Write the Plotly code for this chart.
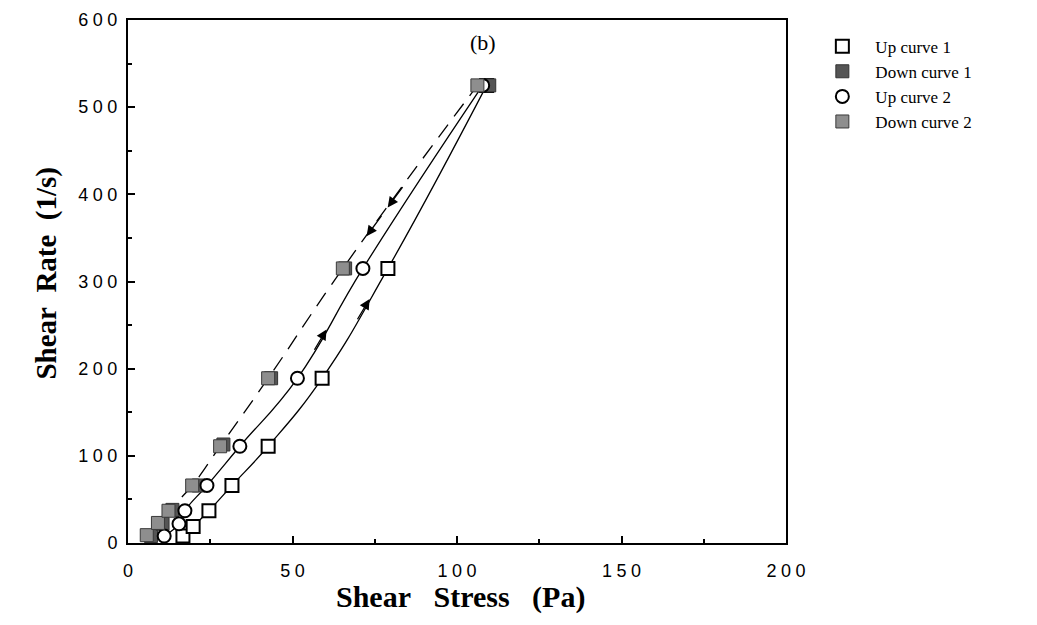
import numpy as np
import plotly.graph_objects as go

# ---- data ----
up1_stress = [16.7, 19.8, 24.6, 31.6, 42.6, 59.0, 79.0, 109.0]
up1_rate = [8, 19, 37, 66, 111, 189, 315, 525]

down1_stress = [7.0, 10.5, 13.5, 21.5, 29.0, 43.5, 66.0, 109.8]
down1_rate = [8, 22, 38, 66, 113, 189, 315, 525]

up2_stress = [11.0, 15.5, 17.3, 24.0, 34.0, 51.5, 71.4, 107.8]
up2_rate = [8, 22, 37, 66, 111, 189, 315, 525]

down2_stress = [5.7, 9.1, 12.3, 19.5, 28.0, 42.6, 65.3, 106.2]
down2_rate = [9, 23, 37, 66, 111, 189, 315, 525]

sp = "\u2005"
x_ticks = [0, 50, 100, 150, 200]
x_ticklabels = ["0", sp.join("50"), sp.join("100"), sp.join("150"), sp.join("200")]
y_ticks = [0, 100, 200, 300, 400, 500, 600]
y_ticklabels = ["0"] + [sp.join(s) for s in ["100", "200", "300", "400", "500", "600"]]

names = ["Up curve 1", "Down curve 1", "Up curve 2", "Down curve 2"]

fig = go.Figure()

line_style = dict(color="black", width=1.3, shape="spline", smoothing=1.3)
fig.add_trace(go.Scatter(x=up1_stress, y=up1_rate, mode="lines", line=line_style, showlegend=False, hoverinfo="skip"))
fig.add_trace(go.Scatter(x=up2_stress, y=up2_rate, mode="lines", line=line_style, showlegend=False, hoverinfo="skip"))
fig.add_trace(go.Scatter(x=down2_stress, y=down2_rate, mode="lines", line=dict(line_style, dash="16px,10px"),
                         showlegend=False, hoverinfo="skip"))

msize = 13
fig.add_trace(go.Scatter(x=up1_stress, y=up1_rate, mode="markers", name=names[0],
                         marker=dict(symbol="square", size=msize, color="white", line=dict(color="black", width=2))))
fig.add_trace(go.Scatter(x=down1_stress, y=down1_rate, mode="markers", name=names[1],
                         marker=dict(symbol="square", size=msize, color="#555555", line=dict(color="#333333", width=1))))
fig.add_trace(go.Scatter(x=up2_stress, y=up2_rate, mode="markers", name=names[2],
                         marker=dict(symbol="circle", size=msize, color="white", line=dict(color="black", width=2))))
fig.add_trace(go.Scatter(x=down2_stress, y=down2_rate, mode="markers", name=names[3],
                         marker=dict(symbol="square", size=msize, color="#8e8e8e", line=dict(color="#3a3a3a", width=1))))

def arrow(stress, rate, r_head, r_tail):
    xh = float(np.interp(r_head, rate, stress))
    xt = float(np.interp(r_tail, rate, stress))
    fig.add_annotation(x=xh, y=r_head, ax=xt, ay=r_tail, xref="x", yref="y", axref="x", ayref="y",
                       showarrow=True, arrowhead=2, arrowsize=1.6, arrowwidth=1.3, arrowcolor="black",
                       standoff=0, startstandoff=0, text="")

arrow(up1_stress, up1_rate, 280, 255)
arrow(up2_stress, up2_rate, 245, 220)
arrow(down2_stress, down2_rate, 352, 377)
arrow(down2_stress, down2_rate, 385, 410)

fig.add_annotation(x=108, y=574, xref="x", yref="y", text="(b)", showarrow=False,
                   font=dict(family="Liberation Serif", size=22, color="black"))

fig.add_annotation(x=0.506, y=-0.103, xref="paper", yref="paper", yanchor="middle",
                   text="<b>Shear\u00a0\u00a0\u00a0Stress\u00a0\u00a0\u00a0(Pa)</b>", showarrow=False,
                   font=dict(family="Liberation Serif", size=30, color="black"))
fig.add_annotation(x=-0.152, y=0.516, xref="paper", yref="paper", textangle=-90,
                   text="<b>Shear\u00a0\u00a0Rate\u00a0\u00a0(1/s)</b>", showarrow=False,
                   font=dict(family="Liberation Serif", size=29, color="black"))

axis_common = dict(showgrid=False, zeroline=False, showline=True, linecolor="black", linewidth=2,
                   mirror=True, ticks="inside", tickcolor="black", ticklen=7, tickwidth=2, automargin=False,
                   tickfont=dict(family="Liberation Sans", size=18, color="black"),
                   minor=dict(ticks="inside", ticklen=4, tickcolor="black", tickwidth=1.5))

fig.update_xaxes(range=[0, 200], tickvals=x_ticks, ticktext=x_ticklabels, ticklabelstandoff=10,
                 minor_dtick=25, **axis_common)
fig.update_yaxes(range=[0, 600], tickvals=y_ticks, ticktext=y_ticklabels, ticklabelstandoff=5,
                 minor_dtick=50, **axis_common)

# the page body adds an 8px offset, so the figure is sized to fit the 1037x625 window
fig.update_layout(
    width=1021, height=609,
    margin=dict(l=120, r=243, t=12, b=74, autoexpand=False),
    plot_bgcolor="white", paper_bgcolor="white",
    legend=dict(x=1.0355, y=0.9835, xanchor="left", yanchor="top",
                font=dict(family="Liberation Serif", size=17, color="black"),
                tracegroupgap=0, itemwidth=56, bgcolor="rgba(0,0,0,0)"),
)

fig.write_html("out.html")
